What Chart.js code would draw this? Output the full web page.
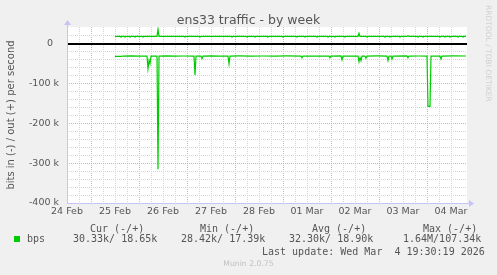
<!DOCTYPE html>
<html>
<head>
<meta charset="utf-8">
<script src="https://cdn.jsdelivr.net/npm/chart.js@4.4.1/dist/chart.umd.min.js"></script>
<style>
  html, body { margin: 0; padding: 0; background: #f0f0f0; }
  #wrap { position: relative; width: 497px; height: 275px; overflow: hidden; }
  #trafficChart { position: absolute; left: 0; top: 0; }
  .t { position: absolute; white-space: pre; color: #555; }
  .mono { font-family: "DejaVu Sans Mono", monospace; font-size: 10px; line-height: 12px; }
</style>
</head>
<body>
<div id="wrap">
  <canvas id="trafficChart" width="497" height="275"></canvas>
  <div class="t" style="left:0;width:497px;top:12px;text-align:center;font:12.5px 'DejaVu Sans';line-height:15px;">ens33 traffic - by week</div>
  <div class="t" style="left:484px;top:5px;font:7.5px 'DejaVu Sans';line-height:8px;color:#d0d0d0;writing-mode:vertical-rl;">RRDTOOL / TOBI OETIKER</div>

  <div class="t mono" style="left:90px;top:223px;">Cur (-/+)</div>
  <div class="t mono" style="left:200px;top:223px;">Min (-/+)</div>
  <div class="t mono" style="left:312px;top:223px;">Avg (-/+)</div>
  <div class="t mono" style="left:423px;top:223px;">Max (-/+)</div>

  <div style="position:absolute;left:14px;top:236px;width:6px;height:6px;background:#00cc00;"></div>
  <div class="t mono" style="left:27px;top:233px;">bps</div>
  <div class="t mono" style="left:73px;top:233px;">30.33k/ 18.65k</div>
  <div class="t mono" style="left:181px;top:233px;">28.42k/ 17.39k</div>
  <div class="t mono" style="left:289px;top:233px;">32.30k/ 18.90k</div>
  <div class="t mono" style="left:403px;top:233px;">1.64M/107.34k</div>

  <div class="t mono" style="left:262px;top:246px;">Last update: Wed Mar  4 19:30:19 2026</div>
  <div class="t" style="left:0;width:497px;top:259px;text-align:center;font:7.7px 'DejaVu Sans';line-height:10px;color:#c0c0c0;">Munin 2.0.75</div>
</div>
<script>
// x values are hours since 24 Feb 00:00, y values in kbit/s
const dayLabels = ['24 Feb', '25 Feb', '26 Feb', '27 Feb', '28 Feb', '01 Mar', '02 Mar', '03 Mar', '04 Mar'];
const dayLabelHours = [12, 36, 60, 84, 108, 132, 156, 180, 204];
const yTickValues = [-400, -300, -200, -100, 0];
const yTickLabels = ['-400 k', '-300 k', '-200 k', '-100 k', '0  '];

// in (-)
const inHours = [
  36, 39, 40, 44, 48,
  52, 52.5, 53, 53.5, 54,
  57, 57.5, 58, 62, 66, 70,
  75.5, 76, 76.5, 79, 79.5, 80, 84, 88,
  92.5, 93, 93.5, 98, 104, 110, 116, 122,
  129, 129.5, 130, 136, 143, 143.5, 144,
  149, 149.5, 150, 157.5, 158, 158.5, 159, 159.5,
  161, 161.5, 162, 167, 172, 172.5, 173, 174, 174.5, 175,
  182, 182.5, 183, 188, 192, 192.5, 193.5, 194,
  198.5, 199, 199.5, 205, 211.5
];
const inKbps = [
  -31.5, -31.5, -30.5, -30.3, -30.6,
  -30.5, -62, -42, -50, -30.5,
  -30.4, -315, -30.5, -30.3, -30.6, -30.4,
  -30.5, -78, -30.5, -30.4, -37, -30.5, -30.3, -30.6,
  -30.4, -50, -30.5, -30.3, -30.6, -30.4, -30.5, -30.3,
  -30.5, -35, -30.4, -30.6, -30.4, -35, -30.5,
  -30.3, -40, -30.5, -30.4, -45, -34, -42, -30.5,
  -30.4, -36, -30.5, -30.3, -30.5, -42, -31, -30.6, -38, -30.5,
  -30.3, -35, -30.5, -30.4, -30.5, -157, -157, -30.5,
  -30.4, -38, -30.5, -30.3, -30.4
];

// out (+)
const outHours = [
  36,
  38.5, 39, 39.5,  40.5, 41, 41.5,  43, 43.5, 44,  45.5, 46, 46.5,  49.5, 50, 50.5,
  57, 57.5, 58,  70.5, 71, 71.5,  78, 78.5, 79,  94, 94.5, 95,
  101.5, 102, 102.5,  105.5, 106, 106.5,  112, 112.5, 113,  119.5, 120, 120.5,
  126.5, 127, 127.5,  130.5, 131, 131.5,  136.5, 137, 137.5,  142, 142.5, 143,
  145.5, 146, 146.5,  150.5, 151, 151.5,  157.5, 158, 158.5,  161.5, 162, 162.5,
  170.5, 171, 171.5,  173, 173.5, 174,  178, 178.5, 179,  182, 182.5, 183,
  187, 187.5, 188,  189.5, 190, 190.5,  198, 198.5, 199,  200.5, 201, 201.5,
  203, 203.5, 204,  207, 207.5, 208,  209.5, 210, 210.5,
  211.5
];
const outKbps = [
  18.9,
  18.9, 17.2, 18.9,  18.9, 17.2, 18.9,  18.9, 17.2, 18.9,  18.9, 17.2, 18.9,  18.9, 17.2, 18.9,
  18.9, 37, 18.9,  18.9, 17.2, 18.9,  18.9, 17.2, 18.9,  18.9, 17.2, 18.9,
  18.9, 17.2, 18.9,  18.9, 17.2, 18.9,  18.9, 17.2, 18.9,  18.9, 17.2, 18.9,
  18.9, 17.2, 18.9,  18.9, 17.2, 18.9,  18.9, 17.2, 18.9,  18.9, 17.2, 18.9,
  18.9, 17.2, 18.9,  18.9, 17.2, 18.9,  18.9, 26.7, 18.9,  18.9, 17.2, 18.9,
  18.9, 17.2, 18.9,  18.9, 17.2, 18.9,  18.9, 17.2, 18.9,  18.9, 20.8, 18.9,
  18.9, 17.2, 18.9,  18.9, 17.2, 18.9,  18.9, 17.2, 18.9,  18.9, 17.2, 18.9,
  18.9, 17.2, 18.9,  18.9, 17.2, 18.9,  18.9, 17.2, 18.9,
  18.9
];

const GREEN = '#00cc00';
const AXIS = '#c4c4f8';
const MINOR = '#d4d4d4';
const MAJOR = '#e8a8a8';

// white plot area + rrdtool style axes with arrow heads
const rrdFrame = {
  id: 'rrdFrame',
  beforeDraw(chart) {
    const { ctx, chartArea: a } = chart;
    ctx.save();
    ctx.fillStyle = '#f0f0f0';
    ctx.fillRect(0, 0, chart.width, chart.height);
    ctx.fillStyle = '#ffffff';
    ctx.fillRect(a.left, a.top, a.right - a.left, a.bottom - a.top);
    ctx.restore();
  },
  afterDraw(chart) {
    const { ctx, chartArea: a } = chart;
    const x = a.left + 0.5, y = a.bottom + 0.5;
    ctx.save();
    ctx.strokeStyle = AXIS;
    ctx.fillStyle = AXIS;
    ctx.lineWidth = 1;
    ctx.beginPath();
    ctx.moveTo(x, y); ctx.lineTo(a.right + 3, y);
    ctx.moveTo(x, y); ctx.lineTo(x, a.top - 3);
    ctx.stroke();
    ctx.beginPath();
    ctx.moveTo(a.right + 2, y - 3.5); ctx.lineTo(a.right + 7, y); ctx.lineTo(a.right + 2, y + 3.5);
    ctx.closePath(); ctx.fill();
    ctx.beginPath();
    ctx.moveTo(x - 3.5, a.top - 2); ctx.lineTo(x, a.top - 7); ctx.lineTo(x + 3.5, a.top - 2);
    ctx.closePath(); ctx.fill();
    ctx.restore();
  }
};

Chart.defaults.font.family = "'DejaVu Sans'";
Chart.defaults.color = '#555';

const ctx = document.getElementById('trafficChart').getContext('2d');
new Chart(ctx, {
  type: 'line',
  data: {
    datasets: [
      {
        label: 'bps in',
        data: inHours.map((h, i) => ({ x: h, y: inKbps[i] })),
        borderColor: GREEN,
        borderWidth: 1.2,
        pointRadius: 0,
        tension: 0
      },
      {
        label: 'bps out',
        data: outHours.map((h, i) => ({ x: h, y: outKbps[i] })),
        borderColor: GREEN,
        borderWidth: 1.2,
        pointRadius: 0,
        tension: 0
      }
    ]
  },
  options: {
    responsive: false,
    animation: false,
    layout: { padding: { left: 0, top: 27, right: 30, bottom: 52 } },
    plugins: {
      legend: { display: false },
      tooltip: { enabled: false },
      title: { display: false }
    },
    scales: {
      x: {
        type: 'linear',
        min: 12,
        max: 212,
        afterBuildTicks: (scale) => { scale.ticks = scale.ticks.filter(t => (t.value - 12) % 6 === 0); },
        afterFit: (scale) => { scale.height = 20; },
        ticks: {
          stepSize: 6,
          autoSkip: false,
          maxRotation: 0,
          padding: 3,
          font: { size: 9.5 },
          color: '#555',
          callback: (v) => {
            const i = dayLabelHours.indexOf(v);
            return i >= 0 ? dayLabels[i] : '';
          }
        },
        grid: {
          drawTicks: false,
          lineWidth: 1,
          color: (c) => {
            const v = c.tick ? c.tick.value : null;
            if (v === 12) return 'rgba(0,0,0,0)';
            return v % 24 === 0 ? MAJOR : MINOR;
          }
        },
        border: { display: false, dash: [1, 1] }
      },
      y: {
        type: 'linear',
        min: -400,
        max: 42.5,
        afterBuildTicks: (scale) => { scale.ticks = scale.ticks.filter(t => t.value % 20 === 0); },
        afterFit: (scale) => { scale.width = 67; },
        title: {
          display: true,
          text: 'bits in (-) / out (+) per second',
          color: '#555',
          font: { size: 10 },
          padding: { top: 5, bottom: 0 }
        },
        ticks: {
          stepSize: 20,
          autoSkip: false,
          padding: 8,
          font: { size: 9.5 },
          color: '#555',
          callback: (v) => {
            const i = yTickValues.indexOf(v);
            return i >= 0 ? yTickLabels[i] : '';
          }
        },
        grid: {
          drawTicks: false,
          lineWidth: (c) => (c.tick && c.tick.value === 0 ? 2 : 1),
          color: (c) => {
            const v = c.tick ? c.tick.value : null;
            if (v === -400) return 'rgba(0,0,0,0)';
            if (v === 0) return '#000000';
            return v % 100 === 0 ? MAJOR : MINOR;
          }
        },
        border: {
          display: false,
          dash: (c) => (c.tick && c.tick.value === 0 ? [] : [1, 1])
        }
      }
    }
  },
  plugins: [rrdFrame]
});
</script>
</body>
</html>
